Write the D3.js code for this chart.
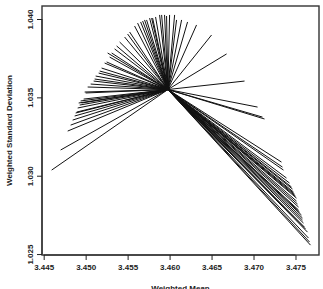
<!DOCTYPE html>
<html>
<head>
<meta charset="utf-8">
<script src="https://cdn.jsdelivr.net/npm/d3@7"></script>
<style>
  body { margin: 0; background: #fff; }
  text { font-family: "Liberation Sans", Arial, sans-serif; }
</style>
</head>
<body>
<svg id="chart" width="323" height="289"></svg>
<script>
// overall weighted mean / sd (common start of every segment)
const centre = [3.4598, 1.0355];

// end points of the segments
const endMean = [
  3.44595, 3.44702, 3.44786, 3.44821, 3.44845, 3.44869, 3.44881, 3.44893, 3.44905, 3.44917,
  3.44929, 3.44940, 3.44952, 3.44976, 3.44988, 3.45000, 3.45024, 3.45060, 3.45095, 3.45107,
  3.45119, 3.45155, 3.45167, 3.45190, 3.45226, 3.45250, 3.45262, 3.45286, 3.45310, 3.45345,
  3.45369, 3.45405, 3.45464, 3.45500, 3.45524, 3.45583, 3.45619, 3.45655, 3.45679, 3.45702,
  3.45726, 3.45762, 3.45786, 3.45798, 3.45833, 3.45881, 3.45905, 3.45940, 3.45964, 3.46000,
  3.46060, 3.46083, 3.46143, 3.46214, 3.46321, 3.46500, 3.46679, 3.46893,
  3.47048, 3.47107, 3.47131,
  3.47333, 3.47345, 3.47357, 3.47393, 3.47429, 3.47452, 3.47464, 3.47476, 3.47488, 3.47500,
  3.47512, 3.47512, 3.47524, 3.47536, 3.47536, 3.47548, 3.47571, 3.47583, 3.47583, 3.47595,
  3.47607, 3.47619, 3.47643, 3.47655, 3.47667, 3.47679
];
const endSd = [
  1.03036, 1.03164, 1.03285, 1.03323, 1.03355, 1.03381, 1.03400, 1.03406, 1.03432, 1.03464,
  1.03451, 1.03477, 1.03464, 1.03489, 1.03534, 1.03528, 1.03566, 1.03585, 1.03604, 1.03617,
  1.03636, 1.03655, 1.03668, 1.03687, 1.03719, 1.03726, 1.03783, 1.03757, 1.03783, 1.03809,
  1.03828, 1.03853, 1.03885, 1.03904, 1.03917, 1.03955, 1.03974, 1.03981, 1.03987, 1.03994,
  1.03994, 1.04006, 1.04006, 1.04006, 1.04013, 1.04026, 1.04026, 1.04026, 1.04019, 1.04026,
  1.04026, 1.03994, 1.03994, 1.03981, 1.03962, 1.03898, 1.03777, 1.03604,
  1.03438, 1.03374, 1.03362,
  1.03087, 1.03055, 1.03036, 1.02985, 1.02953, 1.02928, 1.02915, 1.02896, 1.02883, 1.02870,
  1.02857, 1.02838, 1.02819, 1.02800, 1.02781, 1.02768, 1.02749, 1.02730, 1.02717, 1.02698,
  1.02672, 1.02660, 1.02640, 1.02602, 1.02577, 1.02557
];

const xTicks = [3.445, 3.450, 3.455, 3.460, 3.465, 3.470, 3.475];
const yTicks = [1.025, 1.030, 1.035, 1.040];

const svg = d3.select("#chart");
const box = {left: 42, top: 6, right: 319, bottom: 255};

const x = d3.scaleLinear().domain([3.4448, 3.4778]).range([box.left, box.right]);
const y = d3.scaleLinear().domain([1.02494, 1.04083]).range([box.bottom, box.top]);

const segs = endMean.map((m, i) => ({m: m, s: endSd[i]}));

// segments
svg.append("g").selectAll("line")
  .data(segs)
  .enter().append("line")
    .attr("x1", x(centre[0]))
    .attr("y1", y(centre[1]))
    .attr("x2", d => x(d.m))
    .attr("y2", d => y(d.s))
    .attr("stroke", "#111")
    .attr("stroke-width", 1);

// frame
svg.append("rect")
  .attr("x", box.left)
  .attr("y", box.top)
  .attr("width", box.right - box.left)
  .attr("height", box.bottom - box.top)
  .attr("fill", "none")
  .attr("stroke", "#333")
  .attr("stroke-width", 1.4);

// x axis
const gx = svg.append("g").attr("transform", `translate(0,${box.bottom})`)
  .call(d3.axisBottom(x).tickValues(xTicks).tickSize(5).tickPadding(4).tickFormat(d3.format(".3f")));
gx.select(".domain").attr("d", `M${x(xTicks[0])},0H${x(xTicks[xTicks.length - 1])}`).attr("stroke", "#222");
gx.selectAll(".tick line").attr("stroke", "#222");
gx.selectAll("text")
  .attr("fill", "#222")
  .style("font-size", "8px")
  .style("font-weight", "bold");

// y axis
const gy = svg.append("g").attr("transform", `translate(${box.left},0)`)
  .call(d3.axisLeft(y).tickValues(yTicks).tickSize(5).tickFormat(d3.format(".3f")));
gy.select(".domain").attr("d", `M0,${y(yTicks[0])}V${y(yTicks[yTicks.length - 1])}`).attr("stroke", "#222");
gy.selectAll(".tick line").attr("stroke", "#222");
gy.selectAll(".tick text")
  .attr("x", null).attr("dy", null)
  .attr("transform", "translate(-9,0) rotate(-90)")
  .attr("text-anchor", "middle")
  .attr("fill", "#222")
  .style("font-size", "8px")
  .style("font-weight", "bold");

// axis titles
svg.append("text")
  .attr("x", (box.left + box.right) / 2)
  .attr("y", 291)
  .attr("text-anchor", "middle")
  .attr("fill", "#222")
  .style("font-size", "8px")
  .style("font-weight", "bold")
  .text("Weighted Mean");

svg.append("text")
  .attr("transform", `translate(12,${(box.top + box.bottom) / 2}) rotate(-90)`)
  .attr("text-anchor", "middle")
  .attr("fill", "#222")
  .style("font-size", "8px")
  .style("font-weight", "bold")
  .text("Weighted Standard Deviation");
</script>
</body>
</html>
